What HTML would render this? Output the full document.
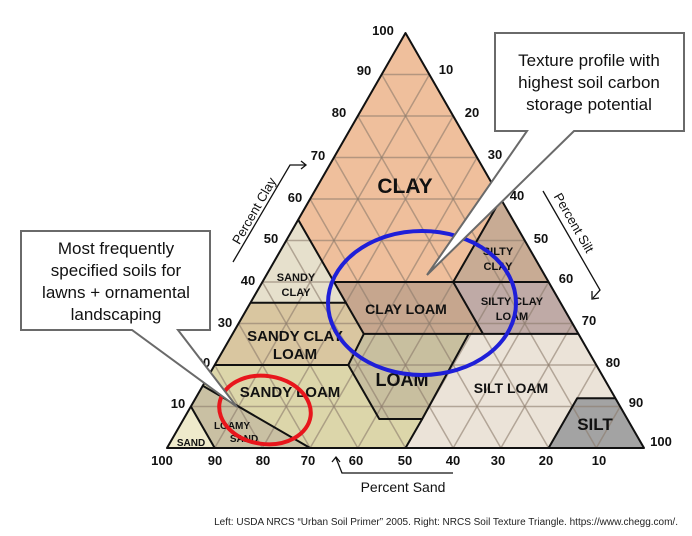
<!DOCTYPE html>
<html><head><meta charset="utf-8"><style>
html,body{margin:0;padding:0;background:#fff;}
svg{display:block;font-family:"Liberation Sans",sans-serif;}
</style></head><body>
<svg width="692" height="536" viewBox="0 0 692 536" xmlns="http://www.w3.org/2000/svg">
<rect width="692" height="536" fill="#fff"/>
<!-- regions -->
<g stroke="none">
<polygon points="405.5,33 298.2,219.7 334,282 453.2,282 500.9,199" fill="#efbf9c"/>
<polygon points="250.5,302.8 298.2,219.7 334,282 345.9,302.8" fill="#e6e0cc"/>
<polygon points="453.2,282 500.9,199 548.6,282" fill="#c8ab94"/>
<polygon points="214.7,365 250.5,302.8 345.9,302.8 363.8,333.9 348.3,365" fill="#d9c6a0"/>
<polygon points="334,282 453.2,282 483,333.9 363.8,333.9" fill="#c6a68e"/>
<polygon points="453.2,282 548.6,282 578.4,333.9 483,333.9" fill="#bfaaa6"/>
<polygon points="363.8,333.9 468.7,333.9 422.2,419 379.3,419 348.3,365" fill="#c8bf9f"/>
<polygon points="468.7,333.9 578.4,333.9 615.4,398.2 577.2,398.2 548.6,448 405.5,448 422.2,419" fill="#ebe3d8"/>
<polygon points="577.2,398.2 615.4,398.2 644,448 548.6,448" fill="#a3a3a3"/>
<polygon points="214.7,365 348.3,365 379.3,419 422.2,419 405.5,448 310.1,448 202.8,385.8" fill="#dcd6aa"/>
<polygon points="202.8,385.8 310.1,448 214.7,448 190.9,406.5" fill="#c9c0a3"/>
<polygon points="190.9,406.5 214.7,448 167,448" fill="#eeeacb"/>
</g>
<!-- grid -->
<g stroke="#8c7b6c" stroke-width="1.5" stroke-opacity="0.6">
<line x1="190.9" y1="406.5" x2="620.2" y2="406.5"/>
<line x1="214.7" y1="365" x2="596.3" y2="365"/>
<line x1="238.6" y1="323.5" x2="572.5" y2="323.5"/>
<line x1="262.4" y1="282" x2="548.6" y2="282"/>
<line x1="286.3" y1="240.5" x2="524.8" y2="240.5"/>
<line x1="310.1" y1="199" x2="500.9" y2="199"/>
<line x1="334" y1="157.5" x2="477" y2="157.5"/>
<line x1="357.8" y1="116" x2="453.2" y2="116"/>
<line x1="381.7" y1="74.5" x2="429.4" y2="74.5"/>
<line x1="214.7" y1="448" x2="190.9" y2="406.5"/>
<line x1="262.4" y1="448" x2="214.7" y2="365"/>
<line x1="310.1" y1="448" x2="238.6" y2="323.5"/>
<line x1="357.8" y1="448" x2="262.4" y2="282"/>
<line x1="405.5" y1="448" x2="286.3" y2="240.5"/>
<line x1="453.2" y1="448" x2="310.1" y2="199"/>
<line x1="500.9" y1="448" x2="334" y2="157.5"/>
<line x1="548.6" y1="448" x2="357.8" y2="116"/>
<line x1="596.3" y1="448" x2="381.7" y2="74.5"/>
<line x1="214.7" y1="448" x2="429.4" y2="74.5"/>
<line x1="262.4" y1="448" x2="453.2" y2="116"/>
<line x1="310.1" y1="448" x2="477" y2="157.5"/>
<line x1="357.8" y1="448" x2="500.9" y2="199"/>
<line x1="405.5" y1="448" x2="524.8" y2="240.5"/>
<line x1="453.2" y1="448" x2="548.6" y2="282"/>
<line x1="500.9" y1="448" x2="572.5" y2="323.5"/>
<line x1="548.6" y1="448" x2="596.3" y2="365"/>
<line x1="596.3" y1="448" x2="620.2" y2="406.5"/>
</g>
<!-- boundaries -->
<g stroke="#111" stroke-width="2" fill="none" stroke-linejoin="round">
<polygon points="405.5,33 167,448 644,448"/>
<polyline points="298.2,219.7 334,282 453.2,282 500.9,199"/>
<polyline points="250.5,302.8 345.9,302.8 334,282"/>
<polyline points="453.2,282 548.6,282"/>
<polyline points="214.7,365 348.3,365 363.8,333.9 578.4,333.9"/>
<polyline points="345.9,302.8 363.8,333.9"/>
<polyline points="453.2,282 483,333.9"/>
<polyline points="468.7,333.9 422.2,419 379.3,419 348.3,365"/>
<polyline points="422.2,419 405.5,448"/>
<polyline points="615.4,398.2 577.2,398.2 548.6,448"/>
<polyline points="202.8,385.8 310.1,448"/>
<polyline points="190.9,406.5 214.7,448"/>
</g>
<!-- region labels -->
<g font-weight="bold" fill="#111" text-anchor="middle">
<text x="405" y="193" font-size="21">CLAY</text>
<text x="296" y="281" font-size="11">SANDY</text>
<text x="296" y="296" font-size="11">CLAY</text>
<text x="295" y="341" font-size="15">SANDY CLAY</text>
<text x="295" y="359" font-size="15">LOAM</text>
<text x="290" y="397" font-size="15">SANDY LOAM</text>
<text x="232" y="429" font-size="10">LOAMY</text>
<text x="244" y="442" font-size="10">SAND</text>
<text x="191" y="446" font-size="10">SAND</text>
<text x="406" y="314" font-size="14">CLAY LOAM</text>
<text x="512" y="305" font-size="11">SILTY CLAY</text>
<text x="512" y="320" font-size="11">LOAM</text>
<text x="498" y="255" font-size="11">SILTY</text>
<text x="498" y="270" font-size="11">CLAY</text>
<text x="402" y="386" font-size="18">LOAM</text>
<text x="511" y="393" font-size="14">SILT LOAM</text>
<text x="595" y="430" font-size="17">SILT</text>
</g>
<!-- tick labels -->
<g font-weight="bold" font-size="13" fill="#111" text-anchor="middle">
<text x="383" y="35">100</text><text x="364" y="75">90</text><text x="339" y="117">80</text>
<text x="318" y="160">70</text><text x="295" y="202">60</text><text x="271" y="243">50</text>
<text x="248" y="285">40</text><text x="225" y="327">30</text><text x="203" y="367">20</text>
<text x="178" y="408">10</text>
<text x="446" y="74">10</text><text x="472" y="117">20</text><text x="495" y="159">30</text>
<text x="517" y="200">40</text><text x="541" y="243">50</text><text x="566" y="283">60</text>
<text x="589" y="325">70</text><text x="613" y="367">80</text><text x="636" y="407">90</text>
<text x="661" y="446">100</text>
<text x="162" y="465">100</text><text x="215" y="465">90</text><text x="263" y="465">80</text>
<text x="308" y="465">70</text><text x="356" y="465">60</text><text x="405" y="465">50</text>
<text x="453" y="465">40</text><text x="498" y="465">30</text><text x="546" y="465">20</text>
<text x="599" y="465">10</text>
</g>
<!-- axis titles -->
<g fill="#111" font-size="13">
<text transform="translate(258,213) rotate(-60)" text-anchor="middle">Percent Clay</text>
<text transform="translate(570,225) rotate(60)" text-anchor="middle">Percent Silt</text>
<text x="403" y="492" text-anchor="middle" font-size="14">Percent Sand</text>
</g>
<g stroke="#111" stroke-width="1.3" fill="none">
<polyline points="233,262 290,165 305,165"/>
<polyline points="301,161 306,165 301,169"/>
<polyline points="543,191 600,290 593,298"/>
<polyline points="592,291 592,299 599,298"/>
<polyline points="453,473 342,473 336,458"/>
<polyline points="332,462 336,457 340,462"/>
</g>
<!-- ellipses -->
<ellipse cx="422" cy="303" rx="94" ry="72" fill="none" stroke="#1f1fd8" stroke-width="4"/>
<ellipse cx="265" cy="410" rx="46" ry="34" transform="rotate(8 265 410)" fill="none" stroke="#e8161c" stroke-width="4"/>
<!-- callouts -->
<polygon points="495,33 684,33 684,131 574,131 427,275 527,131 495,131" fill="#fff" stroke="#6a6a6a" stroke-width="2"/>
<g font-size="17" fill="#111" text-anchor="middle">
<text x="589" y="66">Texture profile with</text>
<text x="589" y="88">highest soil carbon</text>
<text x="589" y="110">storage potential</text>
</g>
<polygon points="21,231 210,231 210,330 178,330 237,407 132,330 21,330" fill="#fff" stroke="#6a6a6a" stroke-width="2"/>
<g font-size="17" fill="#111" text-anchor="middle">
<text x="116" y="254">Most frequently</text>
<text x="116" y="276">specified soils for</text>
<text x="116" y="298">lawns + ornamental</text>
<text x="116" y="320">landscaping</text>
</g>
<text x="678" y="525" font-size="10" fill="#222" text-anchor="end">Left: USDA NRCS “Urban Soil Primer” 2005. Right: NRCS Soil Texture Triangle. https://www.chegg.com/.</text>
</svg>
</body></html>
